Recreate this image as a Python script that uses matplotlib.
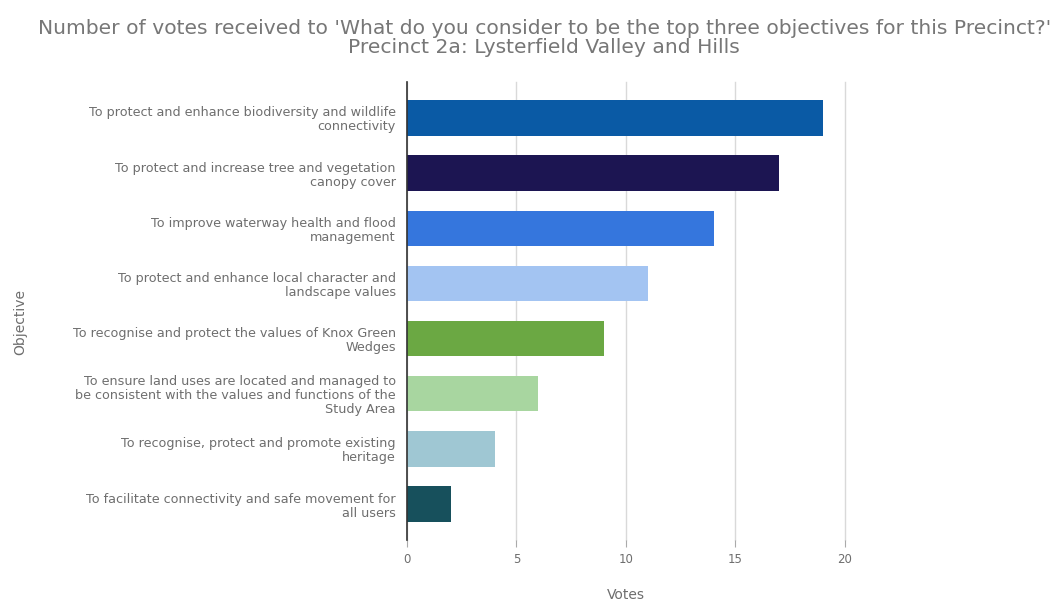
import matplotlib.pyplot as plt

# data
objectives = [
    "To protect and enhance biodiversity and wildlife\nconnectivity",
    "To protect and increase tree and vegetation\ncanopy cover",
    "To improve waterway health and flood\nmanagement",
    "To protect and enhance local character and\nlandscape values",
    "To recognise and protect the values of Knox Green\nWedges",
    "To ensure land uses are located and managed to\nbe consistent with the values and functions of the\nStudy Area",
    "To recognise, protect and promote existing\nheritage",
    "To facilitate connectivity and safe movement for\nall users",
]
votes = [19, 17, 14, 11, 9, 6, 4, 2]
bar_colors = ["#0A5AA5", "#1C1552", "#3576DD", "#A3C4F2",
              "#6BA843", "#A8D6A0", "#9FC7D3", "#17505C"]
x_ticks = [0, 5, 10, 15, 20]

text_col = "#6e6e6e"

fig = plt.figure(figsize=(10.61, 6.05), dpi=100)
ax = fig.add_axes([0.3836, 0.1074, 0.4128, 0.7571])

pos = list(range(len(votes)))
ax.barh(pos, votes, height=0.64, color=bar_colors, zorder=3)

ax.set_ylim(len(votes) - 0.35, -0.65)
ax.set_xlim(0, 20)
ax.set_xticks(x_ticks)
ax.set_yticks(pos)
ax.set_yticklabels(objectives, fontsize=9.2, color=text_col, linespacing=1.1)
ax.tick_params(axis="y", length=0, pad=8)
ax.tick_params(axis="x", length=5, color="#aaaaaa", labelsize=8.5,
               labelcolor=text_col, pad=4)

ax.grid(axis="x", color="#d9d9d9", linewidth=1, zorder=0)
for gl in ax.get_xgridlines():
    gl.set_clip_on(False)
for side in ["top", "right", "bottom"]:
    ax.spines[side].set_visible(False)
ax.spines["left"].set_color("#333333")
ax.spines["left"].set_linewidth(1.2)
ax.spines["left"].set_zorder(4)

ax.set_xlabel("Votes", fontsize=10, color=text_col, labelpad=16)
fig.text(0.019, 0.468, "Objective", rotation=90, fontsize=10, color=text_col,
         ha="center", va="center")

fig.text(0.513, 0.937,
         "Number of votes received to 'What do you consider to be the top three objectives for this Precinct?'\nPrecinct 2a: Lysterfield Valley and Hills",
         ha="center", va="center", fontsize=14.6, color="#777777", linespacing=0.95)

fig.savefig("out.png", dpi=100)
